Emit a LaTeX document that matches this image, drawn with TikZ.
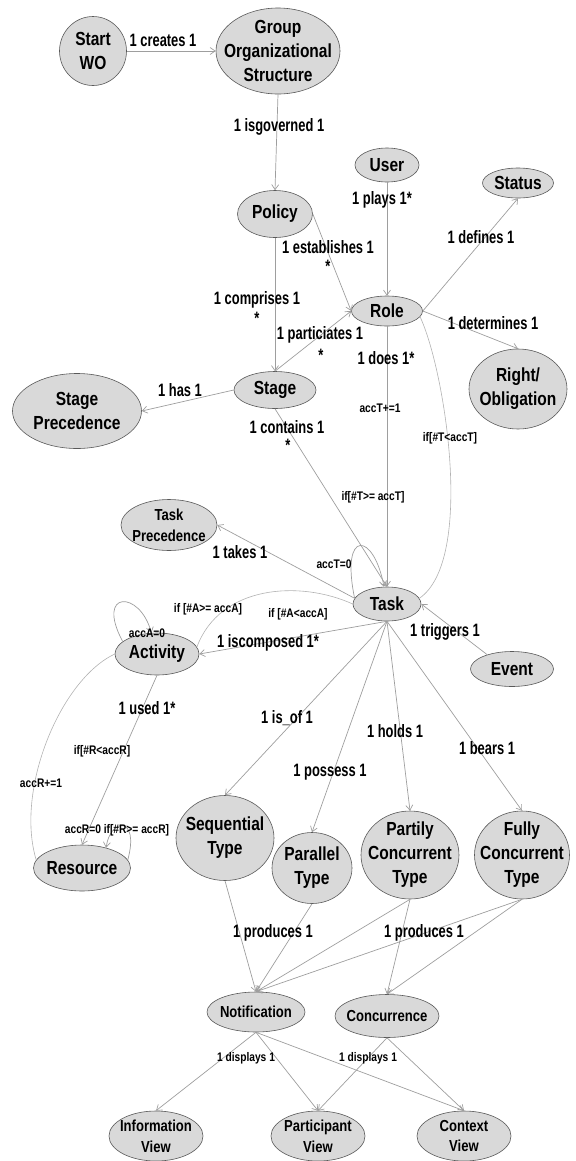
\documentclass[tikz,border=0pt]{standalone}
\usepackage{fontspec}
\usetikzlibrary{shapes.geometric,arrows.meta}
\newfontfamily\narrowsans{Liberation Sans}[FakeStretch=0.82]
\newfontfamily\labelsans{Liberation Sans}[FakeStretch=0.72]
\begin{document}
\begin{tikzpicture}[x=1bp,y=1bp,
  entity/.style={ellipse,draw=black!65,fill=black!15,line width=0.6bp,inner sep=0pt},
  nodetext/.style={align=center,inner sep=0pt,font=\narrowsans\bfseries\fontsize{19}{24}\selectfont},
  smalltext/.style={nodetext,font=\narrowsans\bfseries\fontsize{16}{21}\selectfont},
  rel/.style={draw=black!38,line width=0.7bp,-{Straight Barb[length=5bp,width=7bp]}},
  curve/.style={draw=black!30,line width=0.6bp},
  lab/.style={inner sep=0pt,font=\labelsans\bfseries\fontsize{18}{22}\selectfont},
  cond/.style={inner sep=0pt,font=\narrowsans\bfseries\fontsize{12.5}{15}\selectfont}]
  \newcommand{\entity}[7][nodetext]{
    \node[entity,minimum width=#5bp,minimum height=#6bp,
      label={[#1]center:{#7}}] (#2) at (#3,-#4) {};
  }
  \useasboundingbox (0,0) rectangle (576,-1161);

  % entities
  \entity{start}{93}{51}{67}{69}{Start\\WO}
  \entity{group}{278}{51}{124}{86}{Group\\Organizational\\Structure}
  \entity{policy}{275}{214}{75}{47}{Policy}
  \entity{user}{387}{165}{64}{34}{User}
  \entity{status}{518}{183}{71}{30}{Status}
  \entity{role}{387}{311}{71}{30}{Role}
  \entity{ro}{518}{389}{98}{80}{Right/\\Obligation}
  \entity{stage}{275}{390}{82}{37}{Stage}
  \entity{sp}{77}{411}{129}{75}{Stage\\Precedence}
  \entity[smalltext]{tp}{169}{525}{96}{51}{Task\\Precedence}
  \entity{task}{387}{604}{68}{34}{Task}
  \entity{act}{157}{654}{84}{42}{Activity}
  \entity{event}{512}{669}{83}{35}{Event}
  \entity{res}{82}{868}{97}{46}{Resource}
  \entity{seq}{225}{838}{98}{85}{Sequential\\Type}
  \entity{par}{312}{868}{80}{71}{Parallel\\Type}
  \entity{pc}{410}{855}{98}{88}{Partily\\Concurrent\\Type}
  \entity{fc}{522}{855}{95}{88}{Fully\\Concurrent\\Type}
  \entity[smalltext]{notif}{256}{1012}{98}{40}{Notification}
  \entity[smalltext]{conc}{387}{1016}{104}{43}{Concurrence}
  \entity[smalltext]{info}{156}{1136}{94}{50}{Information\\View}
  \entity[smalltext]{part}{318}{1136}{94}{50}{Participant\\View}
  \entity[smalltext]{ctx}{464}{1136}{94}{50}{Context\\View}

  % relations
  \draw[rel] (start.east) -- (group.west);
  \draw[rel] (group.south) -- (policy.north);
  \draw[rel] (policy.south) -- (stage.north);
  \draw[rel] (policy.east) -- (role.west);
  \draw[rel] (user.south) -- (role.north);
  \draw[rel] (role.east) -- (status.south);
  \draw[rel] (role.east) -- (ro.north);
  \draw[rel] (stage.north) -- (role.west);
  \draw[rel] (stage.west) -- (sp.east);
  \draw[rel] (stage.south) -- (task.north);
  \draw[rel] (role.south) -- (task.north);
  \draw[curve] (role.-10) .. controls (445,-370) and (475,-560) .. (task.10);
  \draw[rel] (task.170) .. controls (340,-528) and (374,-532) .. (task.100);
  \draw[rel] (task.170) -- (tp.east);
  \draw[rel] (task.south) -- (act.east);
  \draw[curve] (task.west) .. controls (300,-580) and (220,-585) .. (act.10);
  \draw[rel] (event.150) -- (task.east);
  \draw[rel] (act.160) .. controls (95,-590) and (140,-590) .. (act.105);
  \draw[rel] (act.south) -- (res.north);
  \draw[curve] (act.west) .. controls (60,-680) and (15,-790) .. (res.170);
  \draw[rel] (res.10) .. controls (140,-815) and (110,-818) .. (res.40);
  \foreach \t in {seq,par,pc,fc} \draw[rel] (task.south) -- (\t.north);
  \foreach \t in {seq,par,pc,fc} \draw[rel] (\t.south) -- (notif.north);
  \foreach \t in {pc,fc} \draw[rel] (\t.south) -- (conc.north);
  \foreach \v in {info,part,ctx} \draw[rel] (notif.south) -- (\v.north);
  \foreach \v in {part,ctx} \draw[rel] (conc.south) -- (\v.north);

  % labels
  \node[lab] (l-creates) at (163,-40) {1 creates 1};
  \node[lab] (l-governed) at (279,-127) {1 isgoverned 1};
  \node[lab] (l-plays) at (382,-200) {1 plays 1*};
  \node[lab] (l-establishes) at (328,-247) {1 establishes 1};
  \node[lab] (l-establishes-m) at (328,-266) {*};
  \node[lab] (l-defines) at (481,-237) {1 defines 1};
  \node[lab] (l-comprises) at (257,-300) {1 comprises 1};
  \node[lab] (l-comprises-m) at (257,-318) {*};
  \node[lab] (l-particiates) at (320,-335) {1 particiates 1};
  \node[lab] (l-particiates-m) at (321,-355) {*};
  \node[lab] (l-determines) at (493,-323) {1 determines 1};
  \node[lab] (l-does) at (386,-358) {1 does 1*};
  \node[lab] (l-has) at (180,-390) {1 has 1};
  \node[lab] (l-contains) at (287,-427) {1 contains 1};
  \node[lab] (l-contains-m) at (288,-445) {*};
  \node[cond] (c-acct-inc) at (380,-408) {accT+=1};
  \node[cond] (c-t-less) at (450,-438) {if[\#T<accT]};
  \node[cond] (c-t-geq) at (373,-497) {if[\#T>= accT]};
  \node[cond] (c-acct-zero) at (334,-564) {accT=0};
  \node[lab] (l-takes) at (240,-552) {1 takes 1};
  \node[cond] (c-a-geq) at (208,-609) {if [\#A>= accA]};
  \node[cond] (c-a-less) at (298,-614) {if [\#A<accA]};
  \node[cond] (c-acca-zero) at (147,-633) {accA=0};
  \node[lab] (l-iscomposed) at (268,-643) {1 iscomposed 1*};
  \node[lab] (l-triggers) at (445,-632) {1 triggers 1};
  \node[lab] (l-used) at (147,-708) {1 used 1*};
  \node[cond] (c-r-less) at (102,-751) {if[\#R<accR]};
  \node[cond] (c-accr-inc) at (41,-783) {accR+=1};
  \node[cond] (c-r-geq) at (117,-830) {accR=0 if[\#R>= accR]};
  \node[lab] (l-isof) at (287,-718) {1 is\_of 1};
  \node[lab] (l-possess) at (330,-772) {1 possess 1};
  \node[lab] (l-holds) at (395,-731) {1 holds 1};
  \node[lab] (l-bears) at (487,-748) {1 bears 1};
  \node[lab] (l-produces-a) at (273,-933) {1 produces 1};
  \node[lab] (l-produces-b) at (424,-933) {1 produces 1};
  \node[cond] (c-displays-a) at (246,-1058) {1 displays 1};
  \node[cond] (c-displays-b) at (368,-1058) {1 displays 1};
\end{tikzpicture}
\end{document}
